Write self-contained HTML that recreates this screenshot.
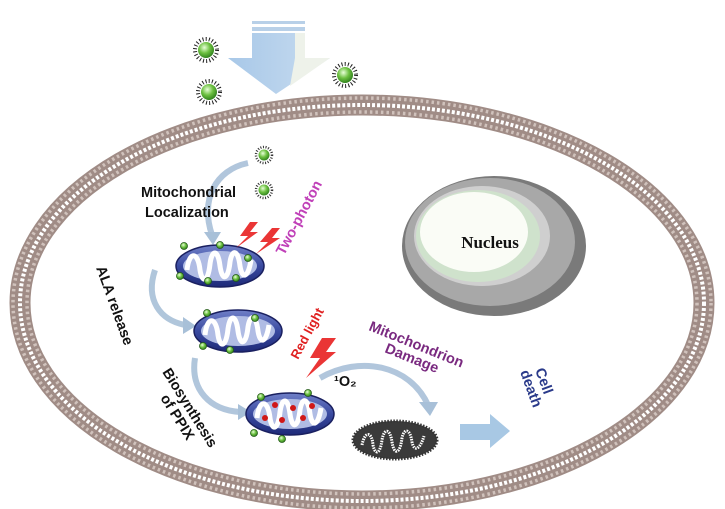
<!DOCTYPE html>
<html><head><meta charset="utf-8"><style>html,body{margin:0;padding:0;background:#fff}svg{display:block}</style></head>
<body>
<svg width="725" height="509" viewBox="0 0 725 509" xmlns="http://www.w3.org/2000/svg" font-family="Liberation Sans, sans-serif">
<defs>
<radialGradient id="gb" cx="0.4" cy="0.35" r="0.7"><stop offset="0" stop-color="#e8ffd8"/><stop offset="0.5" stop-color="#6cc040"/><stop offset="1" stop-color="#2a7a1a"/></radialGradient>
<linearGradient id="mito" x1="0" y1="0" x2="0" y2="1"><stop offset="0" stop-color="#7080c8"/><stop offset="0.5" stop-color="#3a4aa0"/><stop offset="1" stop-color="#1e2a78"/></linearGradient>
<linearGradient id="arr" x1="0" y1="0" x2="1" y2="0"><stop offset="0" stop-color="#a8c8e8"/><stop offset="1" stop-color="#c8dcf0"/></linearGradient>
<g id="ball"><circle r="8" fill="url(#gb)"/><circle r="11" fill="none" stroke="#222" stroke-width="4" stroke-dasharray="1 2.2"/></g>
<g id="sball"><circle r="5.5" fill="url(#gb)"/><circle r="8" fill="none" stroke="#333" stroke-width="2.5" stroke-dasharray="1 1.6"/></g>
<g id="mt">
<ellipse rx="44" ry="21" fill="url(#mito)" stroke="#1a2060" stroke-width="1.5"/>
<ellipse rx="37" ry="15" fill="#b0bce4"/>
<path d="M-33 4 C-31 -15 -22 -15 -20 4 C-18 17 -12 17 -10 -2 C-8 -17 -2 -17 0 0 C2 15 8 15 10 -4 C12 -17 18 -17 20 0 C22 13 28 13 31 -6" fill="none" stroke="#fff" stroke-width="5"/>
</g>
</defs>
<!-- membrane -->
<ellipse cx="362" cy="303" rx="342" ry="198" fill="none" stroke="#a08c86" stroke-width="21"/>
<ellipse cx="362" cy="303" rx="349" ry="205" fill="none" stroke="#d0c2bc" stroke-width="3.5" stroke-dasharray="2.5 3"/>
<ellipse cx="362" cy="303" rx="335" ry="191" fill="none" stroke="#d0c2bc" stroke-width="3.5" stroke-dasharray="2.5 3"/>
<ellipse cx="362" cy="303" rx="342" ry="198" fill="none" stroke="#fff" stroke-width="4" stroke-dasharray="3 2"/>
<!-- top arrow -->
<rect x="252" y="21" width="53" height="3" fill="#b8d0e8"/>
<rect x="252" y="27" width="53" height="4" fill="#b8d0e8"/>
<polygon points="252,33 305,33 305,58 330,58 276,94 228,58 252,58" fill="url(#arr)"/>
<polygon points="295,33 305,33 305,58 330,58 290,86 295,58" fill="#eef2ea"/>
<use href="#ball" x="206" y="50"/><use href="#ball" x="209" y="92"/><use href="#ball" x="345" y="75"/>
<use href="#sball" x="264" y="155"/><use href="#sball" x="264" y="190"/>
<!-- nucleus -->
<ellipse cx="494" cy="246" rx="92" ry="70" fill="#7a7a7a"/>
<ellipse cx="490" cy="242" rx="85" ry="64" fill="#a8a8a8"/>
<ellipse cx="482" cy="236" rx="68" ry="50" fill="#cfcfcf"/>
<ellipse cx="478" cy="236" rx="62" ry="46" fill="#cfe2cc"/>
<ellipse cx="474" cy="232" rx="54" ry="40" fill="#fafcf6"/>
<text x="490" y="248" font-family="Liberation Serif, serif" font-weight="bold" font-size="17" text-anchor="middle" fill="#111">Nucleus</text>
<!-- curved arrows -->
<g fill="none" stroke="#a8c0d8" stroke-width="6" opacity="0.9">
<path d="M248 163 C215 170 200 200 212 235"/>
<path d="M155 270 C145 300 160 320 185 325"/>
<path d="M195 358 C190 390 210 410 240 412"/>
<path d="M320 378 C360 355 410 365 428 405"/>
</g>
<polygon points="204,232 221,232 213,245" fill="#a8c0d8"/>
<polygon points="183,317 196,326 183,334" fill="#a8c0d8"/>
<polygon points="238,404 251,412 238,420" fill="#a8c0d8"/>
<polygon points="419,402 438,402 430,416" fill="#a8c0d8"/>
<!-- mitochondria -->
<use href="#mt" x="220" y="266"/>
<use href="#mt" x="238" y="331"/>
<use href="#mt" x="290" y="414"/>
<g fill="url(#gb)" stroke="#245a18" stroke-width="0.8">
<circle cx="184" cy="246" r="3.5"/><circle cx="220" cy="245" r="3.5"/><circle cx="248" cy="258" r="3.5"/><circle cx="180" cy="276" r="3.5"/><circle cx="208" cy="281" r="3.5"/><circle cx="236" cy="278" r="3.5"/>
<circle cx="207" cy="313" r="3.5"/><circle cx="255" cy="318" r="3.5"/><circle cx="203" cy="346" r="3.5"/><circle cx="230" cy="350" r="3.5"/>
<circle cx="261" cy="397" r="3.5"/><circle cx="308" cy="393" r="3.5"/><circle cx="254" cy="433" r="3.5"/><circle cx="282" cy="439" r="3.5"/>
</g>
<g fill="#d01818"><circle cx="275" cy="405" r="3"/><circle cx="293" cy="408" r="3"/><circle cx="282" cy="420" r="3"/><circle cx="303" cy="418" r="3"/><circle cx="312" cy="406" r="3"/><circle cx="265" cy="418" r="3"/></g>
<!-- damaged mito -->
<ellipse cx="395" cy="440" rx="42" ry="19" fill="#3a3a3a" stroke="#333" stroke-width="3" stroke-dasharray="1.5 1.5"/>
<path d="M362 445 C365 430 372 432 373 445 C375 455 380 455 382 440 C384 428 390 428 392 442 C394 455 400 455 402 438 C404 428 410 428 412 442 C414 452 420 450 424 436" fill="none" stroke="#fff" stroke-width="3" stroke-dasharray="1.5 1"/>
<!-- lightning -->
<g fill="#e82020" opacity="0.9">
<polygon points="250,222 240,236 248,236 236,248 258,232 250,232 258,222"/>
<polygon points="272,228 260,242 268,242 256,254 280,238 272,238 280,228"/>
<polygon points="322,338 310,358 320,358 306,378 336,352 326,352 336,338"/>
</g>
<!-- arrow to cell death -->
<polygon points="460,424 490,424 490,414 510,431 490,448 490,440 460,440" fill="#a8c8e4"/>
<!-- texts -->
<g font-weight="bold" font-size="14.5" fill="#111">
<text x="141" y="197">Mitochondrial</text>
<text x="145" y="217">Localization</text>
<text transform="translate(96,268) rotate(70)">ALA release</text>
<text transform="translate(162,372) rotate(58)">Biosynthesis</text>
<text transform="translate(160,398) rotate(58)">of PPIX</text>
<text x="334" y="386">¹O₂</text>
</g>
<text transform="translate(284,256) rotate(-62)" font-weight="bold" font-size="14.5" fill="#c040b8">Two-photon</text>
<text transform="translate(298,360) rotate(-62)" font-weight="bold" font-size="13" fill="#e02020">Red light</text>
<g font-weight="bold" font-size="14.5" fill="#7a2a80">
<text transform="translate(368,330) rotate(22)">Mitochondrion</text>
<text transform="translate(384,352) rotate(22)">Damage</text>
</g>
<g font-weight="bold" font-size="14.5" fill="#2a3a8a">
<text transform="translate(535,370) rotate(70)">Cell</text>
<text transform="translate(520,372) rotate(70)">death</text>
</g>
</svg>
</body></html>
